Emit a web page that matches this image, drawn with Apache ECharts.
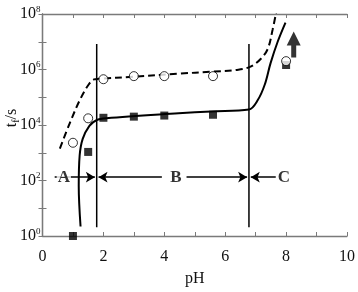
<!DOCTYPE html>
<html><head><meta charset="utf-8">
<script src="https://cdn.jsdelivr.net/npm/echarts@6/dist/echarts.min.js"></script>
<style>html,body{margin:0;padding:0;background:#fff}#c{width:358px;height:292px}</style>
</head><body><div id="c"></div>
<script>
// Dashed model curve (pH, t_f / s)
const dashX = [0.57, 0.9, 1.23, 1.5, 1.69, 1.85, 2.97, 4.48, 5.55, 6.43, 6.85, 7.18, 7.4, 7.56, 7.68];
const dashY = [1400, 12000, 81000, 270000, 440000, 460000, 550000, 710000, 830000, 980000, 1300000, 2500000, 5600000, 28000000, 126000000];
// Solid model curve
const solidX = [1.25, 1.19, 1.22, 1.32, 1.54, 1.77, 2.1, 4.47, 5.54, 6.78, 7.07, 7.3, 7.49, 7.72, 7.98];
const solidY = [2.2, 63, 794, 3160, 9300, 14800, 17400, 26300, 30900, 36300, 79400, 288000, 1700000, 9800000, 49000000];
// Filled squares
const sqX = [1, 1.5, 2, 3, 4, 5.6, 8];
const sqY = [1, 1070, 18200, 20000, 21900, 23400, 1450000];
// Open circles
const ciX = [1, 1.5, 2, 3, 4, 5.6, 8];
const ciY = [2290, 17400, 446000, 577000, 577000, 577000, 2000000];
// Region boundaries and labels
const bounds = [1.78, 6.78];
const boundSpan = [2.05, 8300000];
const arrowLevel = 132;
const regionNames = ['A', 'B', 'C'];
const regionX = [0.7, 4.38, 7.93];
// region arrows: [from, to]
const regionArrows = [[0.4, 1.72], [3.92, 1.84], [4.73, 6.72], [7.66, 6.84]];
// big up arrow (pH, t at centre)
const upArrow = [8.25, 8000000];
// Axis ticks
const xTicks = [0, 2, 4, 6, 8, 10];
const yExp = [0, 2, 4, 6, 8];

const serif = 'Liberation Serif';
const axisGray = '#7a7a7a';
const zip = (a, b) => a.map((v, i) => [v, b[i]]);

const chart = echarts.init(document.getElementById('c'), null, {renderer: 'canvas'});
const baseX = {
  type: 'value', min: 0, max: 10, interval: 2,
  axisLine: {lineStyle: {color: axisGray, width: 1.3}},
  axisTick: {inside: true, length: 4, lineStyle: {color: axisGray}},
  minorTick: {show: true, splitNumber: 2, length: 4, lineStyle: {color: axisGray}},
  splitLine: {show: false}
};
const baseY = {
  type: 'log', logBase: 10, min: 1, max: 1e8, interval: 1,
  axisLine: {show: true, lineStyle: {color: axisGray, width: 1.3}},
  axisTick: {show: true, inside: true, length: 4, lineStyle: {color: axisGray}},
  splitLine: {show: false}
};
const option = {
  animation: false,
  grid: {left: 42.5, right: 8, top: 14, bottom: 47},
  xAxis: [
    Object.assign({}, baseX, {
      position: 'bottom',
      axisLabel: {color: '#111', fontFamily: serif, fontSize: 16, margin: 13,
        formatter: v => xTicks.indexOf(v) >= 0 ? String(v) : ''},
      name: 'pH', nameLocation: 'middle', nameGap: 35,
      nameTextStyle: {color: '#111', fontFamily: serif, fontSize: 16}
    }),
    Object.assign({}, baseX, {position: 'top', axisLabel: {show: false}})
  ],
  yAxis: [
    Object.assign({}, baseY, {
      position: 'left',
      axisLabel: {
        margin: 2,
        formatter: v => {
          const e = Math.round(Math.log10(v));
          return yExp.indexOf(e) >= 0 ? '{b|10}{s|' + e + '}' : '';
        },
        rich: {
          b: {fontFamily: serif, fontSize: 16, color: '#111', lineHeight: 18},
          s: {fontFamily: serif, fontSize: 9, color: '#111', verticalAlign: 'top', lineHeight: 18}
        }
      }
    }),
    Object.assign({}, baseY, {position: 'right', axisLabel: {show: false}})
  ],
  graphic: [{
    type: 'text', x: 12, y: 118, rotation: Math.PI / 2,
    style: {
      text: '{a|t}{b|f}{a|/s}', align: 'center', verticalAlign: 'middle',
      rich: {
        a: {fontFamily: serif, fontSize: 16, fill: '#111', lineHeight: 18},
        b: {fontFamily: serif, fontSize: 10, fill: '#111', verticalAlign: 'bottom', lineHeight: 18}
      }
    }
  }],
  series: [
    {type: 'line', data: zip(dashX, dashY), smooth: 0.35, showSymbol: false, symbol: 'none',
      lineStyle: {color: '#000', width: 2, type: [7, 4]}, z: 3},
    {type: 'line', data: zip(solidX, solidY), smooth: 0.35, showSymbol: false, symbol: 'none',
      lineStyle: {color: '#000', width: 2}, z: 3},
    ...bounds.map(b => ({type: 'line', data: boundSpan.map(t => [b, t]), symbol: 'none',
      lineStyle: {color: '#000', width: 1.5}, z: 2})),
    {type: 'scatter', data: zip(sqX, sqY), symbol: 'rect', symbolSize: 8,
      itemStyle: {color: '#000'}, z: 5},
    {type: 'scatter', data: zip(ciX, ciY), symbol: 'circle', symbolSize: 9,
      itemStyle: {color: '#fff', borderColor: '#000', borderWidth: 1}, z: 6},
    {type: 'scatter', data: [upArrow],
      symbol: 'path://M7,0 L14,14 L9.5,14 L9.5,26 L4.5,26 L4.5,14 L0,14 Z',
      symbolSize: [14, 26], symbolKeepAspect: false, itemStyle: {color: '#000'}, z: 6},
    {type: 'scatter', z: 8,
      data: regionNames.map((n, i) => ({name: n, value: [regionX[i], arrowLevel]})),
      symbol: 'rect', symbolSize: 1, itemStyle: {color: 'rgba(0,0,0,0)'},
      label: {show: true, position: 'inside', formatter: '{b}', color: '#000',
        fontFamily: serif, fontWeight: 'bold', fontSize: 17, backgroundColor: '#fff', padding: [0, 1]},
      markLine: {
        silent: true, symbol: ['none', 'arrow'], symbolSize: [8, 9],
        label: {show: false},
        lineStyle: {color: '#000', width: 1.5, type: 'solid'},
        data: regionArrows.map(a => [{coord: [a[0], arrowLevel]}, {coord: [a[1], arrowLevel]}])
      }}
  ]
};
chart.setOption(option);
</script>
</body></html>
